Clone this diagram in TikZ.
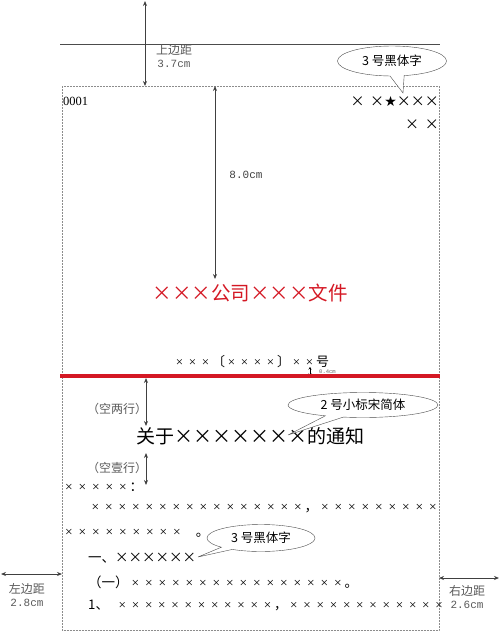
\documentclass[tikz,border=0pt]{standalone}
\usepackage{fontspec}
\setmainfont{Liberation Serif}
\setmonofont{Liberation Mono}
\newfontfamily\cjk{Noto Sans CJK SC}
\newfontfamily\symf{DejaVu Sans}
\usetikzlibrary{arrows.meta,shapes.callouts}
\definecolor{docred}{RGB}{212,24,36}
\newcommand\sx{\makebox[1em]{\rmfamily ×}}
\newcommand\bx{\makebox[1em]{×}}
\newcommand\fs[1]{\fontsize{#1}{#1}\selectfont}

\begin{document}
\begin{tikzpicture}[x=1pt, y=-1pt,
    dim/.style={{Stealth[length=5pt,width=4pt]}-{Stealth[length=5pt,width=4pt]}, thick, draw=black!75},
    note/.style={text=black!65, font=\cjk\fs{12}, align=center, inner sep=0pt},
    size/.style={text=black!75, font=\ttfamily\fs{11}, inner sep=0pt},
    body/.style={anchor=west, inner sep=0pt, font=\cjk\fs{13.5}},
    bubble/.style={ellipse callout, draw=black!70, fill=white, font=\cjk\fs{12.5}, inner sep=0pt}
]
    \useasboundingbox (0,0) rectangle (500,632);

    % Top margin
    \coordinate (ruleL) at (60,44);
    \coordinate (ruleR) at (440,44);
    \draw[black!70] (ruleL) -- (ruleR);
    \coordinate (tm0) at (145,1);
    \coordinate (tm1) at (145,86);
    \draw[dim] (tm0) -- (tm1);
    \node[note] (tmlab) at (174,56) {上边距\\[1pt]{\ttfamily\fs{11}3.7cm}};

    % Page
    \draw[black!45, dash pattern=on 2pt off 1pt] (62,86) rectangle (439,630.5);
    \node[anchor=west, inner sep=0pt, font=\fs{12.5}] (num) at (63,101) {0001};
    \node[anchor=east, inner sep=0pt, font=\cjk\fs{14}] (sec1) at (439,101) {\bx\hspace{0.4em}\bx{\symf ★}\bx\bx\bx};
    \node[anchor=east, inner sep=0pt, font=\cjk\fs{14}] (sec2) at (439,125) {\bx\hspace{0.4em}\bx};
    \coordinate (p1) at (403,93);
    \node[bubble, minimum width=109pt, minimum height=30pt, callout absolute pointer={(p1)}] (c1) at (392,61) {3 号黑体字};

    % Header
    \coordinate (hd0) at (215,86);
    \coordinate (hd1) at (215,279);
    \draw[dim] (hd0) -- (hd1);
    \node[size] (hdlab) at (246,175) {8.0cm};
    \node[inner sep=0pt, text=docred, font=\cjk\fs{19.5}] (head) at (250,293) {\bx\bx\bx 公司\bx\bx\bx 文件};
    \node[inner sep=0pt, font=\cjk\fs{13}] (docno) at (251,362) {\sx\sx\sx〔\sx\sx\sx\sx〕\sx\sx 号};
    \coordinate (gap0) at (310,367);
    \coordinate (gap1) at (310,376);
    \draw[{Stealth[length=2.5pt,width=3pt]}-{Stealth[length=2.5pt,width=3pt]}, black] (gap0) -- (gap1);
    \node[anchor=west, inner sep=0pt, text=black!60, font=\ttfamily\fs{5.5}] (gaplab) at (319,372) {0.4cm};
    \coordinate (redL) at (60,376);
    \coordinate (redR) at (440,376);
    \draw[docred, line width=3.5pt] (redL) -- (redR);

    % Title
    \coordinate (t0) at (146,378);
    \coordinate (t1) at (146,426);
    \draw[dim] (t0) -- (t1);
    \node[note, font=\cjk\fs{12}] (blank2) at (117,409) {（空两行）};
    \node[inner sep=0pt, font=\cjk\fs{19}] (title) at (250,436) {关于\bx\bx\bx\bx\bx\bx\bx 的通知};
    \coordinate (p2) at (288,435);
    \node[bubble, minimum width=150pt, minimum height=25pt, callout absolute pointer={(p2)}] (c2) at (363,405) {2 号小标宋简体};
    \coordinate (s0) at (146,453);
    \coordinate (s1) at (146,485);
    \draw[dim] (s0) -- (s1);
    \node[note, font=\cjk\fs{12}] (blank1) at (117,468) {（空壹行）};

    % Body
    \node[body] (l1) at (62,487) {\sx\sx\sx\sx\sx：};
    \node[body] (l2) at (88.5,509) {\sx\sx\sx\sx\sx\sx\sx\sx\sx\sx\sx\sx\sx\sx\sx\sx，\sx\sx\sx\sx\sx\sx\sx\sx\sx};
    \node[body] (l3) at (62,533) {\sx\sx\sx\sx\sx\sx\sx\sx\sx\hspace{0.9em}。};
    \node[body] (l4) at (88,558) {一、\bx\bx\bx\bx\bx\bx};
    \coordinate (p3) at (198,557);
    \node[bubble, minimum width=108pt, minimum height=27pt, callout absolute pointer={(p3)}] (c3) at (261,538) {3 号黑体字};
    \node[body] (l5) at (88,582) {（一）\sx\sx\sx\sx\sx\sx\sx\sx\sx\sx\sx\sx\sx\sx\sx\sx。};
    \node[body, font=\cjk\fs{13.2}] (l6) at (88,605) {1、\hspace{7pt}\sx\sx\sx\sx\sx\sx\sx\sx\sx\sx\sx\sx，\sx\sx\sx\sx\sx\sx\sx\sx\sx\sx\sx\sx};

    % Side margins
    \coordinate (lm0) at (1,574);
    \coordinate (lm1) at (62,574);
    \draw[dim] (lm0) -- (lm1);
    \node[note] (lmlab) at (27,595) {左边距\\[1pt]{\ttfamily\fs{11}2.8cm}};
    \coordinate (rm0) at (439,578);
    \coordinate (rm1) at (499,578);
    \draw[dim] (rm0) -- (rm1);
    \node[note] (rmlab) at (467,597) {右边距\\[1pt]{\ttfamily\fs{11}2.6cm}};
\end{tikzpicture}
\end{document}
